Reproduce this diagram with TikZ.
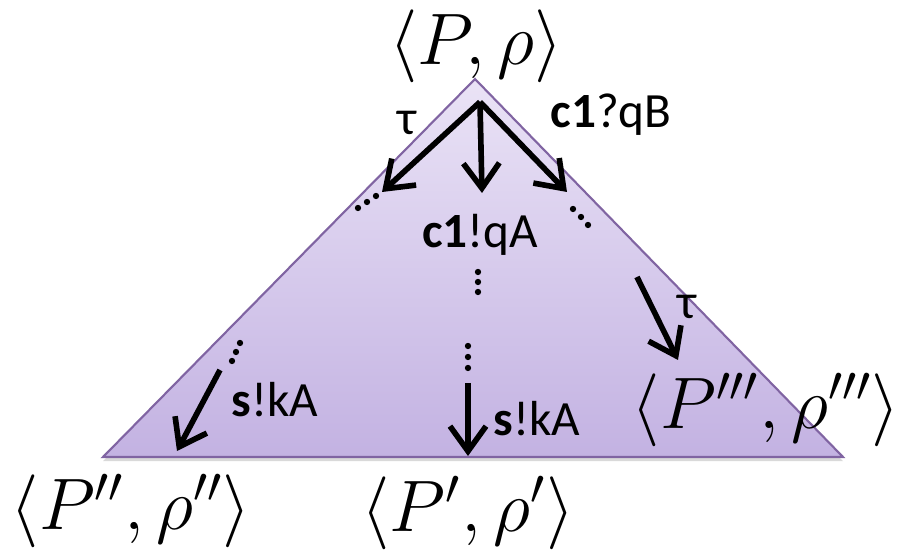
\documentclass[tikz,border=0pt]{standalone}
\usepackage{amsmath}
\usepackage{fontspec}
\setsansfont{Carlito}
\usetikzlibrary{arrows.meta}
\usetikzlibrary{shadows}
\definecolor{triborder}{RGB}{128,100,162}
\definecolor{tritop}{RGB}{234,227,246}
\definecolor{tribottom}{RGB}{195,178,226}

\begin{document}
\begin{tikzpicture}[x = 0.01cm, y = -0.01cm,
    conf/.style = {font = \fontsize{20}{24}\selectfont, inner sep = 0pt},
    act/.style = {font = \sffamily\fontsize{14}{16}\selectfont, inner sep = 0pt},
    move/.style = {line width = 1.6pt, -{Straight Barb[length = 2.5mm, width = 3.6mm, line width = 1.6pt]}}]
    \useasboundingbox (0,0) rectangle (905,555);

    \fill[top color = tritop, bottom color = tribottom,
          drop shadow = {shadow xshift = 0pt, shadow yshift = -1.2pt, opacity = 0.3}]
        (475,79) -- (843,457) -- (103,457) -- cycle;
    \draw[triborder, line width = 0.6pt] (475,79) -- (843,457) -- (103,457) -- cycle;

    \node[conf] (start) at (476,46) {$\langle P,\rho\rangle$};
    \node[conf] (left) at (131,511) {$\langle P'',\rho''\rangle$};
    \node[conf] (mid) at (468,513) {$\langle P',\rho'\rangle$};
    \node[conf] (right) at (766,410) {$\langle P''',\rho'''\rangle$};

    \coordinate (fork) at (480,102);
    \coordinate (taudone) at (382,192);
    \coordinate (senddone) at (482,193);
    \coordinate (recvdone) at (567,192);
    \coordinate (taufrom) at (637,277);
    \coordinate (tauto) at (678,360);
    \coordinate (leftfrom) at (220,370);
    \coordinate (leftto) at (177,451);
    \coordinate (midfrom) at (468,383);
    \coordinate (midto) at (468,456);

    \draw[move] (fork) -- (taudone);
    \draw[move] (fork) -- (senddone);
    \draw[move] (fork) -- (recvdone);
    \draw[move] (taufrom) -- (tauto);
    \draw[move] (leftfrom) -- (leftto);
    \draw[move] (midfrom) -- (midto);

    \node[act] (tauA) at (407,123) {τ};
    \node[act] (recv) at (611,115) {\textbf{c1}?qB};
    \node[act] (send) at (480,235) {\textbf{c1}!qA};
    \node[act] (tauB) at (687,307) {τ};
    \node[act] (outA) at (275,400) {\textbf{s}!kA};
    \node[act] (outB) at (537,419) {\textbf{s}!kA};

    % elided steps
    \foreach \x/\y in {358/208, 367/202, 376/196, 573/209, 581/217, 588/225,
                       478/272, 478/282, 478/292, 240/343, 236/352, 232/361,
                       468/346, 468/357, 468/368}
        \fill (\x,\y) circle (0.9pt);
\end{tikzpicture}
\end{document}
